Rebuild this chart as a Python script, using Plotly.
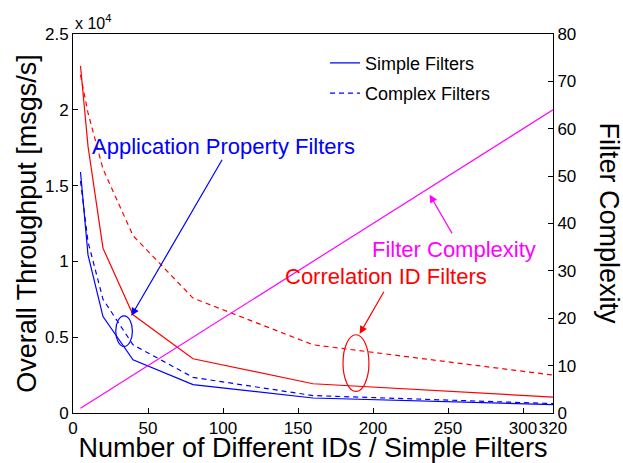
import plotly.graph_objects as go

# ---- data ----
ids = [5, 10, 20, 40, 80, 160, 320]
simple_app = [15900, 10430, 6360, 3510, 1870, 990, 550]
complex_app = [15300, 11300, 7500, 4500, 2350, 1150, 620]
simple_corr = [22900, 17600, 10870, 6480, 3580, 1930, 1050]
complex_corr = [22300, 19800, 16100, 11700, 7580, 4500, 2500]
complexity = [1, 2, 4, 8, 16, 32, 64]

x_ticks = [0, 50, 100, 150, 200, 250, 300, 320]
y1_ticks = [0, 5000, 10000, 15000, 20000, 25000]
y1_ticktext = ["0", "0.5", "1", "1.5", "2", "2.5"]
y2_ticks = [0, 10, 20, 30, 40, 50, 60, 70, 80]

FONT = "Liberation Sans, Arial, Helvetica, sans-serif"
BLUE = "#0000FF"
RED = "#FF0000"
MAG = "#FF00FF"
DASH = "5px,4px"

fig = go.Figure()

fig.add_trace(go.Scatter(x=ids, y=complexity, mode="lines", yaxis="y2",
                         line=dict(color=MAG, width=1.2), showlegend=False))
fig.add_trace(go.Scatter(x=ids, y=simple_corr, mode="lines",
                         line=dict(color=RED, width=1.2), showlegend=False))
fig.add_trace(go.Scatter(x=ids, y=complex_corr, mode="lines",
                         line=dict(color=RED, width=1.2, dash=DASH), showlegend=False))
fig.add_trace(go.Scatter(x=ids, y=simple_app, mode="lines", name="Simple Filters",
                         legendgroup="a",
                         line=dict(color=BLUE, width=1.2)))
fig.add_trace(go.Scatter(x=ids, y=complex_app, mode="lines", name="Complex Filters",
                         legendgroup="b",
                         line=dict(color=BLUE, width=1.2, dash=DASH)))

axis_common = dict(showgrid=False, zeroline=False, showline=True, linecolor="black",
                   linewidth=1, ticks="inside", ticklen=5, tickwidth=1, tickcolor="black",
                   automargin=False, tickangle=0,
                   tickfont=dict(family=FONT, size=17, color="black"))

fig.update_layout(
    width=623, height=463,
    margin=dict(l=73, r=70, t=34, b=50),
    paper_bgcolor="white", plot_bgcolor="white",
    font=dict(family=FONT, color="black"),
    xaxis=dict(range=[0, 320], tickmode="array", tickvals=x_ticks,
               ticktext=[str(v) for v in x_ticks], mirror=True,
               title=dict(text="Number of Different IDs / Simple Filters",
                          font=dict(family=FONT, size=27), standoff=0),
               **axis_common),
    yaxis=dict(range=[0, 25000], tickmode="array", tickvals=y1_ticks,
               ticktext=y1_ticktext,
               title=dict(text="Overall Throughput [msgs/s]",
                          font=dict(family=FONT, size=27), standoff=0),
               **axis_common),
    yaxis2=dict(range=[0, 80], tickmode="array", tickvals=y2_ticks,
                overlaying="y", side="right", **axis_common),
    legend=dict(x=0.525, y=0.972, xanchor="left", yanchor="top",
                bgcolor="rgba(0,0,0,0)", borderwidth=0, tracegroupgap=4,
                font=dict(family=FONT, size=18, color="black")),
)

annotations = [
    # x 10^4 multiplier
    dict(x=0, y=1, xref="paper", yref="paper", xanchor="left", yanchor="bottom",
         text="x 10<sup>4</sup>", showarrow=False, font=dict(size=16, color="black")),
    # right axis title
    dict(x=1, y=0.5, xref="paper", yref="paper", xanchor="center", xshift=56,
         text="Filter Complexity",
         textangle=90, showarrow=False, font=dict(size=27, color="black")),
    # annotation texts
    dict(x=100, y=17600, text="Application Property Filters", showarrow=False,
         font=dict(size=22, color=BLUE)),
    dict(x=208.5, y=9000, text="Correlation ID Filters", showarrow=False,
         font=dict(size=22, color=RED)),
    dict(x=253.8, y=10760, text="Filter Complexity", showarrow=False,
         font=dict(size=22, color=MAG)),
    # arrows
    dict(x=38.9, y=6410, ax=100, ay=16800, axref="x", ayref="y", text="",
         showarrow=True, arrowhead=2, arrowsize=1.3, arrowwidth=1.2, arrowcolor=BLUE),
    dict(x=191.1, y=5220, ax=207.8, ay=8100, axref="x", ayref="y", text="",
         showarrow=True, arrowhead=2, arrowsize=1.3, arrowwidth=1.2, arrowcolor=RED),
    dict(x=237.8, y=14400, ax=253.3, ay=11750, axref="x", ayref="y", text="",
         showarrow=True, arrowhead=2, arrowsize=1.3, arrowwidth=1.2, arrowcolor=MAG),
]
for a in annotations:
    a.setdefault("font", {})
    a["font"].setdefault("family", FONT)
    fig.add_annotation(**a)

fig.add_shape(type="circle", xref="x", yref="y", x0=28.5, x1=39.6, y0=4390, y1=6410,
              line=dict(color=BLUE, width=1.2))
fig.add_shape(type="circle", xref="x", yref="y", x0=180, x1=197.3, y0=1420, y1=5160,
              line=dict(color=RED, width=1.2))

fig.write_html("out.html")
